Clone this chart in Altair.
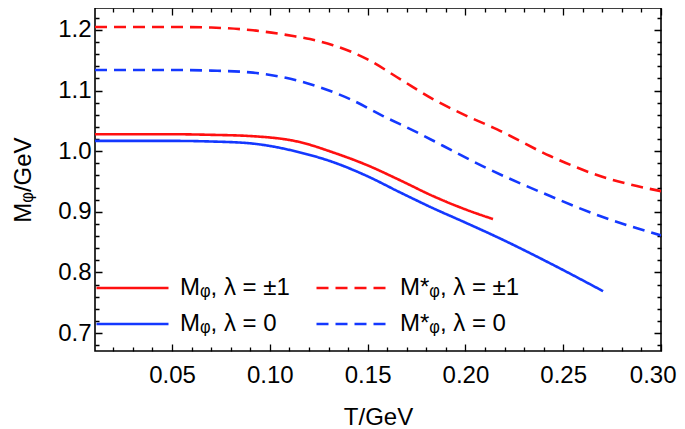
import altair as alt
import pandas as pd

# ---- data ----
S1 = "Mᵩ, λ = ±1"
S2 = "M*ᵩ, λ = ±1"
S3 = "Mᵩ, λ = 0"
S4 = "M*ᵩ, λ = 0"

T_s1 = [0.0106, 0.03, 0.05, 0.07, 0.0899, 0.1154, 0.1323, 0.1497, 0.1666, 0.1834, 0.2008, 0.2141]
M_s1 = [1.028, 1.028, 1.028, 1.027, 1.025, 1.015, 0.998, 0.977, 0.952, 0.926, 0.903, 0.888]

T_s3 = [0.0106, 0.03, 0.05, 0.07, 0.0899, 0.1154, 0.1323, 0.1497, 0.1666, 0.1834, 0.2008, 0.2177, 0.2433, 0.2704]
M_s3 = [1.017, 1.017, 1.017, 1.016, 1.013, 0.998, 0.982, 0.959, 0.932, 0.906, 0.881, 0.856, 0.815, 0.769]

T_s2 = [0.0106, 0.03, 0.05, 0.07, 0.0899, 0.1119, 0.1205, 0.1323, 0.1497, 0.1666, 0.1834, 0.2008, 0.2162, 0.2433, 0.2688, 0.30]
M_s2 = [1.205, 1.205, 1.205, 1.204, 1.200, 1.190, 1.185, 1.175, 1.152, 1.119, 1.086, 1.058, 1.036, 0.992, 0.959, 0.934]

T_s4 = [0.0106, 0.03, 0.05, 0.07, 0.0899, 0.1067, 0.1241, 0.1410, 0.1579, 0.1753, 0.1885, 0.2090, 0.2433, 0.2688, 0.30]
M_s4 = [1.134, 1.134, 1.134, 1.133, 1.130, 1.122, 1.107, 1.086, 1.058, 1.031, 1.009, 0.975, 0.926, 0.893, 0.861]

# tick positions (major ones get a label and a longer tick)
x_ticks = [round(0.01 * i, 2) for i in range(2, 31)]
y_ticks = [round(0.68 + 0.02 * i, 2) for i in range(0, 28)] + [0.7, 0.8, 0.9, 1.0, 1.1, 1.2]
y_ticks = sorted(set(y_ticks))

X_DOMAIN = [0.0106, 0.30]
Y_DOMAIN = [0.6703, 1.2363]

rows = []
for name, ts, ms in [(S1, T_s1, M_s1), (S2, T_s2, M_s2), (S3, T_s3, M_s3), (S4, T_s4, M_s4)]:
    for t, m in zip(ts, ms):
        rows.append({"T": t, "M": m, "series": name})
df = pd.DataFrame(rows)

FONT = "Liberation Sans"
RED = "#ff1010"
BLUE = "#1438ff"
FS = 24
W, H = 566, 343

X_MAJOR = "abs(datum.value*20 - round(datum.value*20)) < 0.001"
Y_MAJOR = "abs(datum.value*10 - round(datum.value*10)) < 0.001"

# column-major legend: column 1 = solid lines, column 2 = dashed lines
order = [S1, S3, S2, S4]
colors = [RED, BLUE, RED, BLUE]
dashes = [[1, 0], [1, 0], [12, 7], [12, 7]]

legend = alt.Legend(
    title=None, orient="none", legendX=0, legendY=262, columns=2,
    symbolType="stroke", symbolSize=5184, symbolStrokeWidth=2.6,
    labelFont=FONT, labelFontSize=FS, labelColor="black",
    labelOffset=10, rowPadding=0, columnPadding=25,
    clipHeight=36, padding=0, symbolOffset=0, labelLimit=300,
)

x_axis = alt.Axis(
    orient="bottom", values=x_ticks, ticks=False, domain=False,
    grid=True, gridColor="black", gridOpacity=1, gridWidth=1.3,
    gridDash={"condition": {"test": X_MAJOR, "value": [7, H - 14, 7, 2000]},
              "value": [4, H - 8, 4, 2000]},
    labelExpr=f"{X_MAJOR} ? format(datum.value, '.2f') : ''",
    labelFont=FONT, labelFontSize=FS, labelColor="black", labelPadding=12,
    labelFlush=True, labelFlushOffset=15, labelOverlap=False,
    title="T/GeV", titleFont=FONT, titleFontSize=FS, titleFontWeight="normal",
    titleColor="black", titlePadding=18,
)
y_axis = alt.Axis(
    orient="left", values=y_ticks, ticks=False, domain=False,
    grid=True, gridColor="black", gridOpacity=1, gridWidth=1.3,
    gridDash={"condition": {"test": Y_MAJOR, "value": [7, W - 14, 7, 2000]},
              "value": [4, W - 8, 4, 2000]},
    labelExpr=f"{Y_MAJOR} ? format(datum.value, '.1f') : ''",
    labelFont=FONT, labelFontSize=FS, labelColor="black", labelPadding=4,
    labelFlush=False, labelOverlap=False,
    title="Mᵩ/GeV", titleFont=FONT, titleFontSize=FS, titleFontWeight="normal",
    titleColor="black", titlePadding=22,
)

chart = alt.Chart(df).mark_line(strokeWidth=2.6, interpolate="monotone", clip=True).encode(
    x=alt.X("T:Q", scale=alt.Scale(domain=X_DOMAIN, nice=False, zero=False), axis=x_axis),
    y=alt.Y("M:Q", scale=alt.Scale(domain=Y_DOMAIN, nice=False, zero=False), axis=y_axis),
    color=alt.Color("series:N", scale=alt.Scale(domain=order, range=colors), legend=legend),
    strokeDash=alt.StrokeDash("series:N", scale=alt.Scale(domain=order, range=dashes), legend=legend),
    detail="series:N",
).properties(
    width=W, height=H,
    autosize=alt.AutoSizeParams(type="none"),
    padding={"left": 87, "top": 0, "right": 16, "bottom": 84},
    background="white",
).configure_view(stroke="black", strokeWidth=1.6)

chart.save("out.html", embed_options={"renderer": "svg", "actions": False})
